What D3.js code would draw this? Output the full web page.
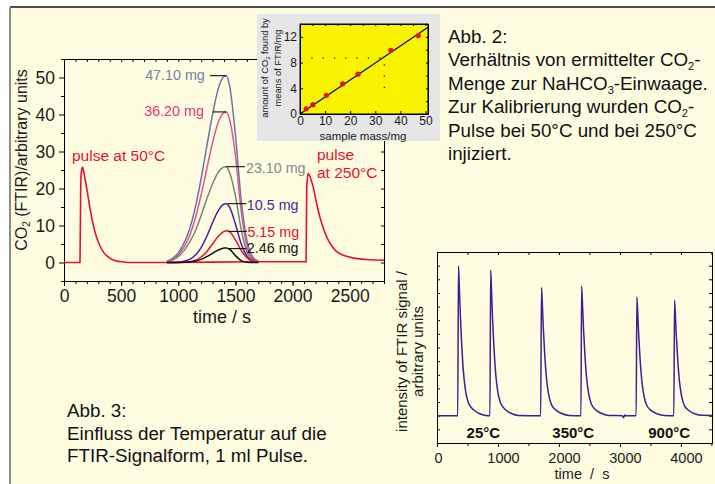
<!DOCTYPE html>
<html><head><meta charset="utf-8">
<script src="https://cdn.jsdelivr.net/npm/d3@7"></script>
<style>
body{margin:0;background:#fff;}
svg{display:block;}
</style></head><body>
<svg id="c" width="715" height="484"></svg>
<script>
// ---------------- DATA ----------------
// Main chart (Abb. 3 left): CO2 (FTIR) vs time
const xTicksMain = [0, 500, 1000, 1500, 2000, 2500];
const yTicksMain = [0, 10, 20, 30, 40, 50];
// red calibration-pulse trace
const pulseTimes = [0,140,146,152,163,172,185,200,220,250,280,310,350,400,450,520,600,900,1700,2118,2124,2136,2150,2165,2180,2200,2238,2270,2296,2340,2384,2450,2529,2650,2800];
const pulseVals  = [0,0,20,24.5,25.8,24.6,22.5,19.8,16,11,7.3,4.8,2.6,1.2,0.5,0.15,0,0,0.2,0.2,20,24.1,23.4,22,20.5,17.5,12.4,9.2,7.1,4.6,3.0,1.9,1.25,0.8,0.6];
// sample peaks, common time grid
const peakTimes = [900,1000,1100,1150,1200,1250,1300,1350,1400,1420,1450,1500,1550,1600,1650,1700];
const massLabels = ["47.10 mg","36.20 mg","23.10 mg","10.5 mg","5.15 mg","2.46 mg"];
const m4710 = [0.3,2.6,9.1,15.0,22.7,31.5,40.1,47.0,50.3,50.5,47.6,34.5,17.0,6.0,1.6,0.4];
const m3620 = [0.3,2.1,7.3,12.1,18.3,25.4,32.4,37.9,40.5,40.7,38.5,29.0,14.0,4.5,1.1,0.3];
const m2310 = [0.2,1.6,5.5,8.6,12.7,17.2,21.3,24.4,25.8,25.9,24.2,18.0,9.0,3.0,0.8,0.2];
const m1050 = [0.0,0.1,0.85,2.0,4.05,7.1,10.75,14.0,15.8,15.9,14.9,10.4,5.1,1.8,0.45,0.1];
const m515  = [0.0,0.02,0.22,0.62,1.48,2.97,5.0,7.08,8.42,8.6,8.3,6.1,3.3,1.3,0.38,0.08];
const m246  = [0,0.01,0.15,0.38,0.84,1.57,2.49,3.38,3.9,3.95,3.55,1.85,0.53,0.09,0,0];

// Inset (Abb. 2): CO2 found vs sample mass
const insetXTicks = [0, 10, 20, 30, 40, 50];
const insetYTicks = [0, 4, 8, 12];
const sampleMass = [2.46, 5.15, 10.5, 17.0, 23.1, 36.2, 47.1];
const co2Found   = [0.8, 1.45, 2.9, 4.7, 6.2, 9.9, 12.2];
const fitMass = [0, 51];
const fitCO2  = [0, 13.5];
const guideMass = [0, 33.6, 33.6];
const guideCO2  = [8.7, 8.7, 2.8];

// Bottom-right: FTIR signal at different temperatures
const tempXTicks = [0, 1000, 2000, 3000, 4000];
const tempLabels = ["25°C", "350°C", "900°C"];
const tempTrace = [[0,2.0],[340,2.0],[352,12.97],[367,11.32],[382,9.46],[402,7.49],[432,5.29],[467,3.86],[512,2.99],[562,2.6],[612,2.38],[692,2.16],[802,2.02],
 [868,2.0],[880,12.67],[895,11.07],[910,9.26],[930,7.34],[960,5.2],[995,3.81],[1040,2.96],[1090,2.59],[1140,2.37],[1220,2.16],[1330,2.02],
 [1700,2.0],[1714,11.4],[1729,9.99],[1744,8.39],[1764,6.7],[1794,4.82],[1829,3.6],[1874,2.85],[1924,2.52],[1974,2.33],[2054,2.14],[2164,2.02],
 [2360,2.0],[2372,11.5],[2387,10.08],[2402,8.46],[2422,6.75],[2452,4.85],[2487,3.62],[2532,2.86],[2582,2.52],[2632,2.33],[2712,2.14],[2822,2.02],
 [3040,2.0],[3060,1.85],[3078,2.05],[3095,2.0],
 [3266,2.0],[3278,10.7],[3293,9.4],[3308,7.92],[3328,6.35],[3358,4.61],[3393,3.48],[3438,2.78],[3488,2.48],[3538,2.3],[3618,2.13],[3728,2.02],
 [3884,2.0],[3896,10.47],[3911,9.2],[3926,7.76],[3946,6.24],[3976,4.54],[4011,3.44],[4056,2.76],[4106,2.47],[4156,2.3],[4236,2.13],[4346,2.03],[4510,2.02]];

// ---------------- DRAW ----------------
const FONT = '"Liberation Sans", Arial, Helvetica, sans-serif';
const svg = d3.select('#c').attr('font-family', FONT);
const fmt = d3.format('d');

svg.append('rect').attr('x',10).attr('y',7).attr('width',705).attr('height',477).attr('fill','#fffde1');
svg.append('line').attr('x1',10).attr('x2',715).attr('y1',7).attr('y2',7).attr('stroke','#111').attr('stroke-width',1.5);
svg.append('line').attr('x1',10).attr('x2',10).attr('y1',7).attr('y2',484).attr('stroke','#8a8a8a').attr('stroke-width',2);

function styleAxis(g, fs){
  g.attr('font-family', FONT).attr('font-size', fs);
  g.selectAll('text').attr('fill','#1a1a1a');
  g.selectAll('path,line').attr('stroke','#000');
  return g;
}

// ===== Main chart =====
const xM = d3.scaleLinear([0,2800],[64,384]);
const yM = d3.scaleLinear([-5,55],[281,59]);
const gM = svg.append('g');

gM.append('defs').append('clipPath').attr('id','clipM').append('rect')
  .attr('x',64).attr('y',59).attr('width',320).attr('height',222);

styleAxis(gM.append('g').attr('transform','translate(0,281)')
  .call(d3.axisBottom(xM).tickValues(d3.range(0,2801,100)).tickSize(3).tickSizeOuter(0).tickFormat('')), 17.5);
styleAxis(gM.append('g').attr('transform','translate(0,281)')
  .call(d3.axisBottom(xM).tickValues(xTicksMain).tickSize(5).tickSizeOuter(0).tickPadding(4).tickFormat(fmt)), 17.5);
styleAxis(gM.append('g').attr('transform','translate(0,59)')
  .call(d3.axisBottom(xM).tickValues(d3.range(0,2801,100)).tickSize(3).tickSizeOuter(0).tickFormat('')), 17.5);
styleAxis(gM.append('g').attr('transform','translate(64,0)')
  .call(d3.axisLeft(yM).tickValues([-5,5,15,25,35,45,55]).tickSize(3).tickSizeOuter(0).tickFormat('')), 17.5);
styleAxis(gM.append('g').attr('transform','translate(64,0)')
  .call(d3.axisLeft(yM).tickValues(yTicksMain).tickSize(5).tickSizeOuter(0).tickPadding(4).tickFormat(fmt)), 17.5);
styleAxis(gM.append('g').attr('transform','translate(384,0)')
  .call(d3.axisLeft(yM).tickValues(d3.range(-5,56,5)).tickSize(3).tickSizeOuter(0).tickFormat('')), 17.5);

const lineM = d3.line().x(d=>xM(d[0])).y(d=>yM(d[1])).curve(d3.curveMonotoneX);
const plotM = gM.append('g').attr('clip-path','url(#clipM)');
plotM.append('path').datum(pulseTimes.map((t,i)=>[t,pulseVals[i]]))
  .attr('d',lineM).attr('fill','none').attr('stroke','#e8102e').attr('stroke-width',1.6);

const series = [
  {v:m4710, c:'#6b74a8', lc:'#7480a8'},
  {v:m3620, c:'#d9588f', lc:'#e6337e'},
  {v:m2310, c:'#6f8880', lc:'#7d8a8a'},
  {v:m1050, c:'#4a1c9c', lc:'#4a2599'},
  {v:m515,  c:'#e8102e', lc:'#e8102e'},
  {v:m246,  c:'#111111', lc:'#111111'}
];
series.forEach(s=>{
  plotM.append('path').datum(peakTimes.map((t,i)=>[t,s.v[i]]))
    .attr('d',lineM).attr('fill','none').attr('stroke',s.c).attr('stroke-width',1.5);
});

// mass labels with leader lines (positions in data units)
const labelPos = [
  {tx:1232, ty:49.4, anchor:'end',   l1:1276, l2:1420, ly:50.5},
  {tx:1224, ty:39.5, anchor:'end',   l1:1302, l2:1420, ly:40.7},
  {tx:1592, ty:24.2, anchor:'start', l1:1420, l2:1583, ly:25.9},
  {tx:1600, ty:14.1, anchor:'start', l1:1434, l2:1597, ly:15.9},
  {tx:1605, ty:6.8,  anchor:'start', l1:1434, l2:1600, ly:8.4},
  {tx:1600, ty:2.6,  anchor:'start', l1:1434, l2:1597, ly:3.76}
];
massLabels.forEach((txt,i)=>{
  const p = labelPos[i];
  gM.append('line').attr('x1',xM(p.l1)).attr('x2',xM(p.l2)).attr('y1',yM(p.ly)).attr('y2',yM(p.ly))
    .attr('stroke','#111').attr('stroke-width',1.1);
  gM.append('text').attr('x',xM(p.tx)).attr('y',yM(p.ty)).attr('text-anchor',p.anchor)
    .attr('font-size',14.3).attr('fill',series[i].lc).text(txt);
});

gM.append('text').attr('x',72).attr('y',161).attr('font-size',15.5).attr('fill','#e8102e').text('pulse at 50°C');
gM.append('text').attr('x',317).attr('y',160).attr('font-size',15.5).attr('fill','#e8102e').text('pulse');
gM.append('text').attr('x',317).attr('y',178).attr('font-size',15.5).attr('fill','#e8102e').text('at 250°C');

const yl = gM.append('text').attr('transform','translate(27,160) rotate(-90)').attr('text-anchor','middle')
  .attr('font-size',16).attr('fill','#1a1a1a');
yl.append('tspan').text('CO');
yl.append('tspan').attr('font-size',10).attr('dy',3).text('2');
yl.append('tspan').attr('dy',-3).text(' (FTIR)/arbitrary units');
gM.append('text').attr('x',222).attr('y',323).attr('text-anchor','middle').attr('font-size',18)
  .attr('fill','#1a1a1a').text('time / s');

// ===== Inset =====
const xI = d3.scaleLinear([0,51],[300,428]);
const yI = d3.scaleLinear([0,14],[114,24]);
const gI = svg.append('g');
gI.append('rect').attr('x',257).attr('y',14).attr('width',183).attr('height',127).attr('fill','#e6e6e6');
gI.append('rect').attr('x',300).attr('y',24).attr('width',128).attr('height',90).attr('fill','#f8f300');
gI.append('path').datum(guideMass.map((m,i)=>[m,guideCO2[i]]))
  .attr('d',d3.line().x(d=>xI(d[0])).y(d=>yI(d[1]))).attr('fill','none')
  .attr('stroke','#222').attr('stroke-width',1.3).attr('stroke-dasharray','1.3,10');
styleAxis(gI.append('g').attr('transform','translate(0,114)')
  .call(d3.axisBottom(xI).tickValues(insetXTicks).tickSize(-3).tickSizeOuter(0).tickPadding(2)), 12);
styleAxis(gI.append('g').attr('transform','translate(0,24)')
  .call(d3.axisBottom(xI).tickValues(d3.range(0,51,5)).tickSize(2).tickSizeOuter(0).tickFormat('')), 12);
styleAxis(gI.append('g').attr('transform','translate(300,0)')
  .call(d3.axisLeft(yI).tickValues(insetYTicks).tickSize(-3).tickSizeOuter(0).tickPadding(3)), 12);
styleAxis(gI.append('g').attr('transform','translate(428,0)')
  .call(d3.axisLeft(yI).tickValues(d3.range(0,15,2)).tickSize(2).tickSizeOuter(0).tickFormat('')), 12);
gI.append('rect').attr('x',300).attr('y',24).attr('width',128).attr('height',90).attr('fill','none')
  .attr('stroke','#000').attr('stroke-width',1);
gI.append('line').attr('x1',xI(fitMass[0])).attr('y1',yI(fitCO2[0])).attr('x2',xI(fitMass[1])).attr('y2',yI(fitCO2[1]))
  .attr('stroke','#000').attr('stroke-width',1.1);
gI.selectAll('circle.pt').data(sampleMass).join('circle').attr('class','pt')
  .attr('cx',d=>xI(d)).attr('cy',(d,i)=>yI(co2Found[i])).attr('r',2.6).attr('fill','#e8102e');
gI.append('text').attr('x',363).attr('y',140).attr('text-anchor','middle').attr('font-size',11.5)
  .attr('fill','#1a1a1a').text('sample mass/mg');
const il1 = gI.append('text').attr('transform','translate(268,68) rotate(-90)').attr('text-anchor','middle')
  .attr('font-size',9.3).attr('fill','#1a1a1a');
il1.append('tspan').text('amount of CO');
il1.append('tspan').attr('font-size',6).attr('dy',2).text('2');
il1.append('tspan').attr('dy',-2).text(' found by');
gI.append('text').attr('transform','translate(280.5,68) rotate(-90)').attr('text-anchor','middle')
  .attr('font-size',9.3).attr('fill','#1a1a1a').text('means of FTIR/mg');

// ===== Bottom-right chart =====
const xT = d3.scaleLinear([0,4510],[437,712]);
const yT = d3.scaleLinear([0,14],[443,252]);
const gT = svg.append('g');
styleAxis(gT.append('g').attr('transform','translate(0,443)')
  .call(d3.axisBottom(xT).tickValues(d3.range(500,4510,1000)).tickSize(3).tickSizeOuter(0).tickFormat('')), 14.5);
const bx = styleAxis(gT.append('g').attr('transform','translate(0,443)')
  .call(d3.axisBottom(xT).tickValues(tempXTicks).tickSize(4).tickSizeOuter(0).tickPadding(6).tickFormat(fmt)), 14.5);
bx.selectAll('.tick text').attr('dx',(d)=> d===0 ? 1 : 5);
styleAxis(gT.append('g').attr('transform','translate(0,252)')
  .call(d3.axisBottom(xT).tickValues(d3.range(500,4510,500)).tickSize(3).tickSizeOuter(0).tickFormat('')), 14.5);
styleAxis(gT.append('g').attr('transform','translate(437,0)')
  .call(d3.axisRight(yT).tickValues(d3.range(0,15,1)).tickSize(3).tickSizeOuter(0).tickFormat('')), 14.5);
styleAxis(gT.append('g').attr('transform','translate(712,0)')
  .call(d3.axisLeft(yT).tickValues(d3.range(0,15,1)).tickSize(3).tickSizeOuter(0).tickFormat('')), 14.5);

gT.append('path').datum(tempTrace)
  .attr('d', d3.line().x(d=>xT(d[0])).y(d=>yT(d[1])).curve(d3.curveMonotoneX))
  .attr('fill','none').attr('stroke','#3f1d92').attr('stroke-width',1.5);

const tempLabelT = [760, 2235, 3808];
tempLabels.forEach((t,i)=>{
  gT.append('text').attr('x',xT(tempLabelT[i])).attr('y',yT(0.37)).attr('text-anchor','middle')
    .attr('font-size',15).attr('font-weight','bold').attr('fill','#111').text(t);
});
gT.append('text').attr('transform','translate(407,351.5) rotate(-90)').attr('text-anchor','middle')
  .attr('font-size',15).attr('fill','#1a1a1a').text('intensity of FTIR signal /');
gT.append('text').attr('transform','translate(423,351.5) rotate(-90)').attr('text-anchor','middle')
  .attr('font-size',15).attr('fill','#1a1a1a').text('arbitrary units');
gT.append('text').attr('x',582).attr('y',478.5).attr('text-anchor','middle').attr('font-size',14.5)
  .attr('fill','#1a1a1a').style('white-space','pre').text('time  /  s');

// ===== Caption texts =====
function captionLines(x, y0, dy, lines){
  lines.forEach((parts,i)=>{
    const t = svg.append('text').attr('x',x).attr('y',y0+i*dy).attr('font-size',18.8).attr('fill','#111');
    let shift = 0;
    parts.forEach(p=>{
      if (typeof p === 'string') {
        t.append('tspan').attr('dy', -shift).text(p); shift = 0;
      } else {
        t.append('tspan').attr('font-size',11).attr('dy',4).text(p.sub); shift = 4;
      }
    });
  });
}
captionLines(448, 43, 23.4, [
  ['Abb. 2:'],
  ['Verhältnis von ermittelter CO', {sub:'2'}, '-'],
  ['Menge zur NaHCO', {sub:'3'}, '-Einwaage.'],
  ['Zur Kalibrierung wurden CO', {sub:'2'}, '-'],
  ['Pulse bei 50°C und bei 250°C'],
  ['injiziert.']
]);
captionLines(67, 417, 22.5, [
  ['Abb. 3:'],
  ['Einfluss der Temperatur auf die'],
  ['FTIR-Signalform, 1 ml Pulse.']
]);
</script></body></html>
